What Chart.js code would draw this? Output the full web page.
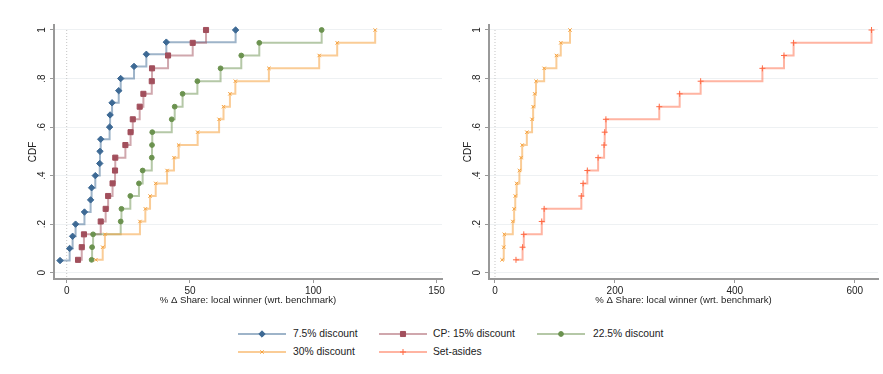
<!DOCTYPE html>
<html>
<head>
<meta charset="utf-8">
<script src="https://cdn.jsdelivr.net/npm/chart.js@4.4.1/dist/chart.umd.min.js"></script>
<style>
  body { margin: 0; background: #fff; width: 883px; height: 374px; position: relative; overflow: hidden; font-family: "Liberation Sans", Arial, sans-serif; }
  .panel { position: absolute; top: 0; }
  .leg-line { position: absolute; }
  .leg-text { position: absolute; font-size: 10.3px; color: #222; line-height: 14px; white-space: nowrap; }
</style>
</head>
<body>
<canvas id="leftChart" class="panel" style="left:0px" width="452" height="310"></canvas>
<canvas id="rightChart" class="panel" style="left:435px" width="448" height="310"></canvas>
<div id="legend"></div>

<script>
// ---- data ----
const yTicks = [0, 0.2, 0.4, 0.6, 0.8, 1];
const yTickLabels = ['0', '.2', '.4', '.6', '.8', '1'];
const xTicksLeft = [0, 50, 100, 150];
const xTicksRight = [0, 200, 400, 600];
const refLineX = 0;

// cdf levels (20 obs for 7.5%, 19 obs for the others)
const cdf20 = [0.05, 0.10, 0.15, 0.20, 0.25, 0.30, 0.35, 0.40, 0.45, 0.50,
               0.55, 0.60, 0.65, 0.70, 0.75, 0.80, 0.85, 0.90, 0.95, 1.00];
const cdf19 = [0.053, 0.105, 0.158, 0.211, 0.263, 0.316, 0.368, 0.421, 0.474, 0.526,
               0.579, 0.632, 0.684, 0.737, 0.789, 0.842, 0.895, 0.947, 1.000];

const disc75 = [-2.7, 1.2, 2.4, 3.6, 7.2, 9.7, 10.1, 11.6, 13.4, 13.5,
                13.8, 17.4, 17.6, 18.4, 21.1, 21.9, 27.3, 32.3, 40.4, 68.5];
const disc15 = [4.6, 6.1, 7.0, 13.8, 15.8, 16.8, 18.6, 19.6, 19.7, 23.8,
                25.9, 26.8, 29.6, 31.1, 34.5, 34.6, 41.1, 51.1, 56.5];
const disc225 = [10.1, 10.3, 10.7, 21.9, 22.2, 25.8, 29.3, 30.8, 34.5, 34.6,
                 34.7, 42.6, 43.8, 47.0, 53.0, 62.4, 70.8, 78.1, 103.4];
const disc30 = [11.8, 14.6, 15.5, 29.7, 31.9, 33.8, 36.1, 40.7, 43.5, 45.4,
                53.1, 61.8, 63.6, 66.2, 68.4, 82.0, 102.4, 109.7, 125.1];
const setAsides = [35, 46, 48, 78, 82, 144, 147, 154, 172, 182,
                   183, 185, 274, 308, 343, 446, 482, 498, 628];

// ---- styles ----
const styles = {
  d75:  { label: '7.5% discount',      color: '#3d6994', line: 'rgba(61,105,148,0.5)',  shape: 'rectRot', r: 3.2 },
  d15:  { label: 'CP: 15% discount',   color: '#a24f5c', line: 'rgba(162,79,92,0.5)',   shape: 'rect',    r: 3.6 },
  d225: { label: '22.5% discount',     color: '#6b924f', line: 'rgba(107,146,79,0.5)',  shape: 'circle',  r: 2.4 },
  d30:  { label: '30% discount',       color: '#f5a23f', line: 'rgba(245,162,63,0.55)', shape: 'crossRot', r: 2.4 },
  sa:   { label: 'Set-asides',         color: '#ff6a45', line: 'rgba(255,106,69,0.5)',  shape: 'cross',   r: 3 }
};

function series(xs, ys, st, order) {
  return {
    label: st.label,
    data: xs.map((x, i) => ({ x: x, y: ys[i] })),
    borderColor: st.line,
    borderWidth: 2,
    stepped: true,
    fill: false,
    pointStyle: st.shape,
    pointRadius: st.r,
    pointBackgroundColor: st.color,
    pointBorderColor: st.color,
    pointBorderWidth: 1,
    order: order
  };
}

// dotted vertical line at x = 0
const refLine = {
  id: 'refLine',
  beforeDatasetsDraw(chart) {
    const { ctx, chartArea, scales } = chart;
    const px = scales.x.getPixelForValue(refLineX);
    ctx.save();
    ctx.strokeStyle = '#c4c4c4';
    ctx.lineWidth = 1;
    ctx.setLineDash([1, 2]);
    ctx.beginPath();
    ctx.moveTo(px, chartArea.top + 5);
    ctx.lineTo(px, chartArea.bottom);
    ctx.stroke();
    ctx.restore();
  }
};

function makeChart(id, datasets, xMin, xMax, xTicks, padRight) {
  return new Chart(document.getElementById(id), {
    type: 'line',
    data: { datasets: datasets },
    plugins: [refLine],
    options: {
      responsive: false,
      animation: false,
      devicePixelRatio: 1,
      layout: { padding: { left: 0, top: 25, right: padRight, bottom: 0 } },
      plugins: { legend: { display: false }, tooltip: { enabled: false } },
      scales: {
        x: {
          type: 'linear', min: xMin, max: xMax,
          afterBuildTicks: s => { s.ticks = xTicks.map(v => ({ value: v })); },
          afterFit: s => { s.height = 31; },
          ticks: { maxRotation: 0, padding: 2, color: '#222', font: { size: 10 }, callback: v => String(v) },
          grid: { drawOnChartArea: false, tickColor: '#999', tickLength: 4 },
          border: { color: '#999', width: 2 },
          title: { display: true, text: '% Δ Share: local winner (wrt. benchmark)', color: '#222',
                   font: { size: 9.6 }, padding: { top: 0, bottom: 4 } }
        },
        y: {
          type: 'linear', min: -0.026, max: 1.0206,
          afterBuildTicks: s => { s.ticks = yTicks.map(v => ({ value: v })); },
          afterFit: s => { s.width = 54; },
          ticks: { minRotation: 90, maxRotation: 90, crossAlign: 'center', padding: 4, color: '#222',
                   font: { size: 10 }, callback: (v, i) => yTickLabels[i] },
          grid: { color: '#eef1f3', tickColor: '#999', tickLength: 4 },
          border: { color: '#999', width: 2 },
          title: { display: true, text: 'CDF', color: '#222', font: { size: 10 }, padding: { top: 27, bottom: 0 } }
        }
      }
    }
  });
}

makeChart('leftChart', [
  series(disc75, cdf20, styles.d75, 4),
  series(disc15, cdf19, styles.d15, 3),
  series(disc225, cdf19, styles.d225, 2),
  series(disc30, cdf19, styles.d30, 1)
], -5.15, 152.2, xTicksLeft, 10);

makeChart('rightChart', [
  series(disc30, cdf19, styles.d30, 2),
  series(setAsides, cdf19, styles.sa, 1)
], -10, 638.8, xTicksRight, 4.7);

// ---- legend (drawn by hand below the panels) ----
const legendItems = [
  { st: styles.d75,  x: 238, tx: 293, y: 334 },
  { st: styles.d15,  x: 379, tx: 433, y: 334 },
  { st: styles.d225, x: 537, tx: 593, y: 334 },
  { st: styles.d30,  x: 238, tx: 293, y: 351.5 },
  { st: styles.sa,   x: 379, tx: 433, y: 351.5 }
];
const legend = document.getElementById('legend');
legendItems.forEach(item => {
  const c = document.createElement('canvas');
  c.width = 48; c.height = 14;
  c.className = 'leg-line';
  c.style.left = item.x + 'px';
  c.style.top = (item.y - 7) + 'px';
  legend.appendChild(c);
  const ctx = c.getContext('2d');
  ctx.strokeStyle = item.st.line;
  ctx.lineWidth = 2;
  ctx.beginPath(); ctx.moveTo(0, 7); ctx.lineTo(48, 7); ctx.stroke();
  ctx.fillStyle = item.st.color;
  ctx.strokeStyle = item.st.color;
  ctx.lineWidth = 1;
  Chart.helpers.drawPoint(ctx, { pointStyle: item.st.shape, radius: item.st.r, borderWidth: 1, rotation: 0 }, 24, 7);

  const t = document.createElement('div');
  t.className = 'leg-text';
  t.textContent = item.st.label;
  t.style.left = item.tx + 'px';
  t.style.top = (item.y - 7) + 'px';
  legend.appendChild(t);
});
</script>
</body>
</html>
